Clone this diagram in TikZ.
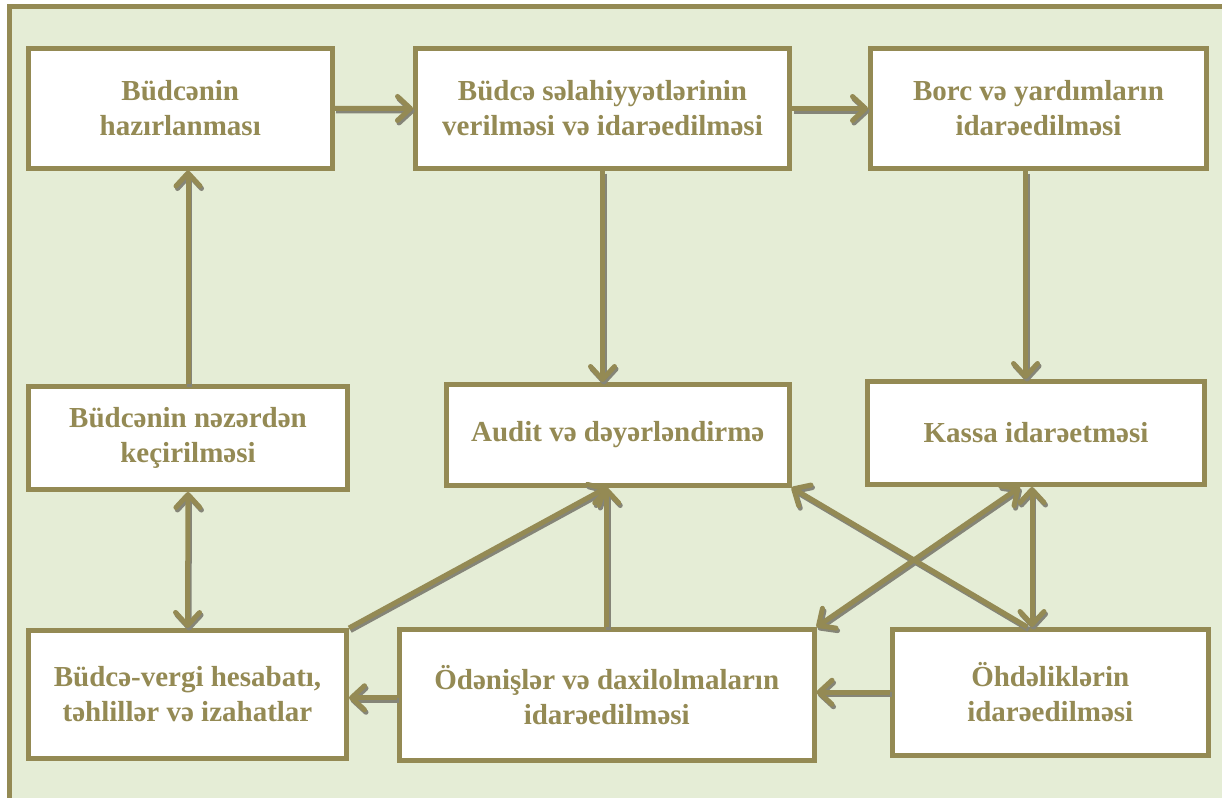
\documentclass[tikz,border=0pt]{standalone}
\usepackage{fontspec}
\setmainfont{Liberation Serif}
\usepackage{xcolor}
\usepackage{tikz}
\usetikzlibrary{calc,arrows.meta}
\definecolor{olive}{HTML}{948A54}
\definecolor{panel}{HTML}{E5EDD6}
\definecolor{shadowgray}{HTML}{858578}
\tikzset{
  frame/.style={fill=olive},
  box/.style={draw=olive, line width=5pt, fill=white, align=center, inner sep=0pt,
    text=olive, font=\fontsize{29}{35}\selectfont\bfseries},
  barb/.tip={Straight Barb[length=13pt,width=24pt,line cap=round,line join=round]},
  link/.style={line width=5pt},
  tip/.style={link, -barb},
  tips/.style={link, barb-barb},
  shadowpass/.style={draw=shadowgray, transform canvas={shift={(1.5pt,-2.5pt)}}},
  linkpass/.style={draw=olive},
}

\begin{document}
\begin{tikzpicture}[x=1pt,y=-1pt]
  \useasboundingbox (0,0) rectangle (1222,798);
  \fill[panel] (9.5,6.5) rectangle (1222,798);
  % frame: only top and left edges fall inside the page
  \fill[frame] (7,4) rectangle (1222,9);
  \fill[frame] (7,4) rectangle (12,798);
  % boxes, top row
  \node[box, minimum width=303.5pt, minimum height=119.5pt] (prep) at (180.25,108.25)
    {Büdcənin\\hazırlanması};
  \node[box, minimum width=374pt, minimum height=120pt] (grant) at (602.5,108.5)
    {Büdcə səlahiyyətlərinin\\verilməsi və idarəedilməsi};
  \node[box, minimum width=336pt, minimum height=120pt] (debt) at (1038.5,108.5)
    {Borc və yardımların\\idarəedilməsi};
  % middle row
  \node[box, minimum width=319pt, minimum height=103pt] (review) at (188,438)
    {Büdcənin nəzərdən\\keçirilməsi};
  \node[box, minimum width=342.5pt, minimum height=100.5pt] (audit) at (617.75,434.75)
    {Audit və dəyərləndirmə};
  \node[box, minimum width=337pt, minimum height=103pt] (cash) at (1036,433)
    {Kassa idarəetməsi};
  % bottom row
  \node[box, minimum width=318pt, minimum height=128pt] (report) at (187.5,694.5)
    {Büdcə-vergi hesabatı,\\təhlillər və izahatlar};
  \node[box, minimum width=414.5pt, minimum height=130.5pt] (pay) at (606.75,694.75)
    {Ödənişlər və daxilolmaların\\idarəedilməsi};
  \node[box, minimum width=315.5pt, minimum height=125.5pt] (oblig) at (1050.25,692.25)
    {Öhdəliklərin\\idarəedilməsi};
  \coordinate (meet) at (pay.north |- audit.south);
  % connectors: grey shadow first, then the olive line
  \foreach \pass in {shadowpass,linkpass} {
    \begin{scope}[\pass]
      \draw[tip] (prep.east) -- (grant.west);
      \draw[tip] (grant.east) -- (debt.west);
      \draw[tip] (grant.south) -- (grant.south |- audit.north);
      \draw[tip] ([xshift=-13pt]debt.south) -- ([xshift=-13pt]debt.south |- cash.north);
      \draw[tip] (review.north) -- (review.north |- prep.south);
      \draw[tips] (review.south) -- (report.north);
      \draw[tip] (report.north east) -- (meet);
      \draw[tip] (pay.north) -- (meet);
      \draw[tip] ([xshift=-23pt]oblig.north) -- (audit.south east);
      \draw[tips] ([xshift=-16pt]cash.south) -- (pay.north east);
      \draw[tips] ([xshift=-4pt]cash.south) -- ([xshift=-4pt]cash.south |- oblig.north);
      \draw[tip] (oblig.west) -- (oblig.west -| pay.east);
      \draw[tip] ([yshift=-3pt]pay.west) -- ([yshift=-3pt]pay.west -| report.east);
    \end{scope}
  }
\end{tikzpicture}
\end{document}
